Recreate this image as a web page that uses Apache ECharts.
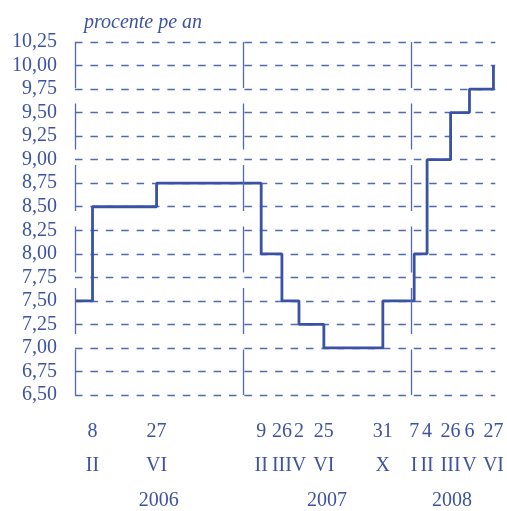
<!DOCTYPE html>
<html>
<head>
<meta charset="utf-8">
<script src="https://cdn.jsdelivr.net/npm/echarts@6/dist/echarts.min.js"></script>
<style>
  html, body { margin: 0; padding: 0; background: #fff; }
  #chart { width: 507px; height: 511px; }
</style>
</head>
<body>
<div id="chart"></div>
<script>
// dates when the rate changed, and the new rate from that date
const changeDates = ['2006-01-01', '2006-02-08', '2006-06-27', '2007-02-09', '2007-03-26', '2007-05-02',
  '2007-06-25', '2007-10-31', '2008-01-07', '2008-02-04', '2008-03-26', '2008-05-06', '2008-06-27']
const rates = [7.50, 8.50, 8.75, 8.00, 7.50, 7.25, 7.00, 7.50, 8.00, 9.00, 9.50, 9.75, 10.00]

// tick labels under the chart (day / month in roman numerals)
const tickDates = changeDates.slice(1)
const dayLabels = ['8', '27', '9', '26', '2', '25', '31', '7', '4', '26', '6', '27']
const monthLabels = ['II', 'VI', 'II', 'III', 'V', 'VI', 'X', 'I', 'II', 'III', 'V', 'VI']

const yearTicks = ['2006-07-02', '2007-07-02', '2008-03-29']
const yearLabels = ['2006', '2007', '2008']
const yearStarts = ['2006-01-01', '2007-01-01', '2008-01-01']

const ts = d => new Date(d).getTime()
const textColor = '#3d53a0'
const gridColor = '#5069b3'
const font = 'Liberation Serif'

const chart = echarts.init(document.getElementById('chart'))
chart.setOption({
  animation: false,
  title: {
    text: 'procente pe an',
    left: 79,
    top: 8,
    textStyle: { fontFamily: font, fontStyle: 'italic', fontWeight: 'normal', fontSize: 20, color: textColor }
  },
  grid: { left: 75, right: 10, top: 42, bottom: 114 },
  xAxis: [{
    type: 'value',
    min: ts('2006-01-01'),
    max: ts('2008-07-01'),
    axisLine: { show: false },
    axisTick: { show: false },
    splitLine: { show: false },
    axisLabel: {
      customValues: tickDates.map(ts),
      margin: 20,
      lineHeight: 34,
      fontFamily: font,
      fontSize: 20,
      color: textColor,
      formatter: v => {
        const i = tickDates.findIndex(d => ts(d) === v)
        return i < 0 ? '' : dayLabels[i] + '\n' + monthLabels[i]
      }
    }
  }, {
    type: 'value',
    position: 'bottom',
    min: ts('2006-01-01'),
    max: ts('2008-07-01'),
    axisLine: { show: false },
    axisTick: { show: false },
    splitLine: { show: false },
    axisLabel: {
      customValues: yearTicks.map(ts),
      margin: 96,
      lineHeight: 20,
      fontFamily: font,
      fontSize: 20,
      color: textColor,
      formatter: v => {
        const i = yearTicks.findIndex(d => ts(d) === v)
        return i < 0 ? '' : yearLabels[i]
      }
    }
  }],
  yAxis: {
    type: 'value',
    min: 6.5,
    max: 10.25,
    interval: 0.25,
    axisLine: { show: false },
    axisTick: { show: false },
    axisLabel: {
      margin: 18,
      fontFamily: font,
      fontSize: 20,
      color: textColor,
      formatter: v => v.toFixed(2).replace('.', ',')
    },
    splitLine: {
      lineStyle: { color: gridColor, width: 1.3, type: [7.5, 7.9] }
    }
  },
  series: [{
    type: 'line',
    step: 'end',
    data: changeDates.map((d, i) => [ts(d), rates[i]]),
    showSymbol: false,
    lineStyle: { color: '#3a52a5', width: 2.8 },
    markLine: {
      silent: true,
      symbol: 'none',
      label: { show: false },
      lineStyle: { color: gridColor, width: 1.3, type: [46, 15.5] },
      data: yearStarts.map(d => [
        { xAxis: ts(d), yAxis: 10.25 },
        { xAxis: ts(d), yAxis: 6.5 }
      ])
    }
  }]
})
</script>
</body>
</html>
